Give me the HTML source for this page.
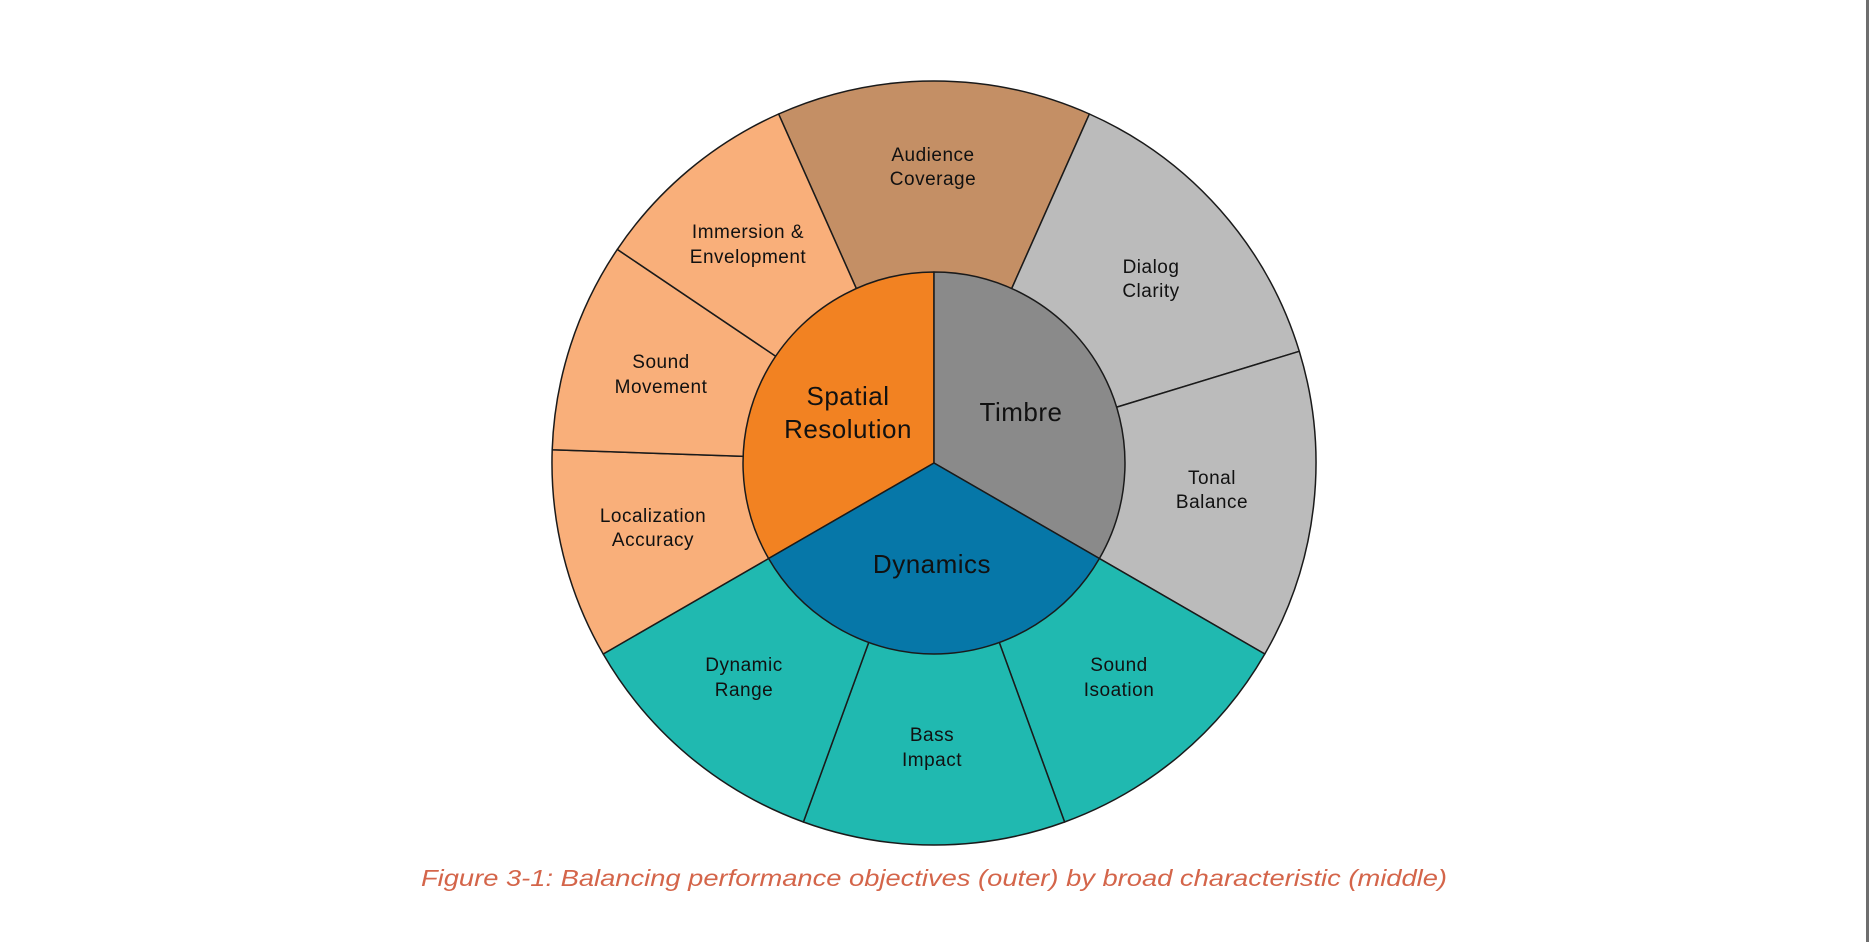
<!DOCTYPE html>
<html><head><meta charset="utf-8"><style>
html,body{margin:0;padding:0;background:#fff;}
svg{display:block;}
text{font-family:"Liberation Sans",sans-serif;fill:#111;text-anchor:middle;}
.o{font-size:19px;letter-spacing:0.5px;}
.m{font-size:26px;letter-spacing:0.5px;}
</style></head><body>
<svg width="1871" height="942" viewBox="0 0 1871 942" xmlns="http://www.w3.org/2000/svg">
<rect width="1871" height="942" fill="#fff"/>
<rect x="1866" y="0" width="3" height="942" fill="#6e6e6e"/>
<g stroke="#1a1a1a" stroke-width="1.5" stroke-linejoin="round">
<path d="M934 463 L1089.4 114 A382 382 0 0 0 778.6 114 Z" fill="#C48F65"/>
<path d="M934 463 L1299.3 351.3 A382 382 0 0 0 1089.4 114 Z" fill="#BBBBBB"/>
<path d="M934 463 L1264.8 654 A382 382 0 0 0 1299.3 351.3 Z" fill="#BBBBBB"/>
<path d="M934 463 L1064.6 822 A382 382 0 0 0 1264.8 654 Z" fill="#20B9B0"/>
<path d="M934 463 L803.4 822 A382 382 0 0 0 1064.6 822 Z" fill="#20B9B0"/>
<path d="M934 463 L603.2 654 A382 382 0 0 0 803.4 822 Z" fill="#20B9B0"/>
<path d="M934 463 L552.2 449.7 A382 382 0 0 0 603.2 654 Z" fill="#F9AF7A"/>
<path d="M934 463 L617.3 249.4 A382 382 0 0 0 552.2 449.7 Z" fill="#F9AF7A"/>
<path d="M934 463 L778.6 114 A382 382 0 0 0 617.3 249.4 Z" fill="#F9AF7A"/>
<path d="M934 463 L934 272 A191 191 0 0 0 768.6 558.5 Z" fill="#F28222"/>
<path d="M934 463 L1099.4 558.5 A191 191 0 0 0 934 272 Z" fill="#8A8A8A"/>
<path d="M934 463 L768.6 558.5 A191 191 0 0 0 1099.4 558.5 Z" fill="#0677A8"/>
</g>
<text class="o" x="933" y="161">Audience</text><text class="o" x="933" y="185">Coverage</text>
<text class="o" x="748" y="238">Immersion &amp;</text><text class="o" x="748" y="263">Envelopment</text>
<text class="o" x="661" y="368">Sound</text><text class="o" x="661" y="393">Movement</text>
<text class="o" x="653" y="522">Localization</text><text class="o" x="653" y="546">Accuracy</text>
<text class="o" x="1151" y="273">Dialog</text><text class="o" x="1151" y="297">Clarity</text>
<text class="o" x="1212" y="484">Tonal</text><text class="o" x="1212" y="508">Balance</text>
<text class="o" x="1119" y="671">Sound</text><text class="o" x="1119" y="696">Isoation</text>
<text class="o" x="932" y="741">Bass</text><text class="o" x="932" y="766">Impact</text>
<text class="o" x="744" y="671">Dynamic</text><text class="o" x="744" y="696">Range</text>
<text class="m" x="848" y="405">Spatial</text><text class="m" x="848" y="438">Resolution</text>
<text class="m" x="1021" y="421">Timbre</text>
<text class="m" x="932" y="573">Dynamics</text>
<text x="934" y="886" style="font-size:23px;font-style:italic;fill:#D4654A;" textLength="1026" lengthAdjust="spacingAndGlyphs">Figure 3-1:  Balancing performance objectives (outer) by broad characteristic (middle)</text>
</svg>
</body></html>
